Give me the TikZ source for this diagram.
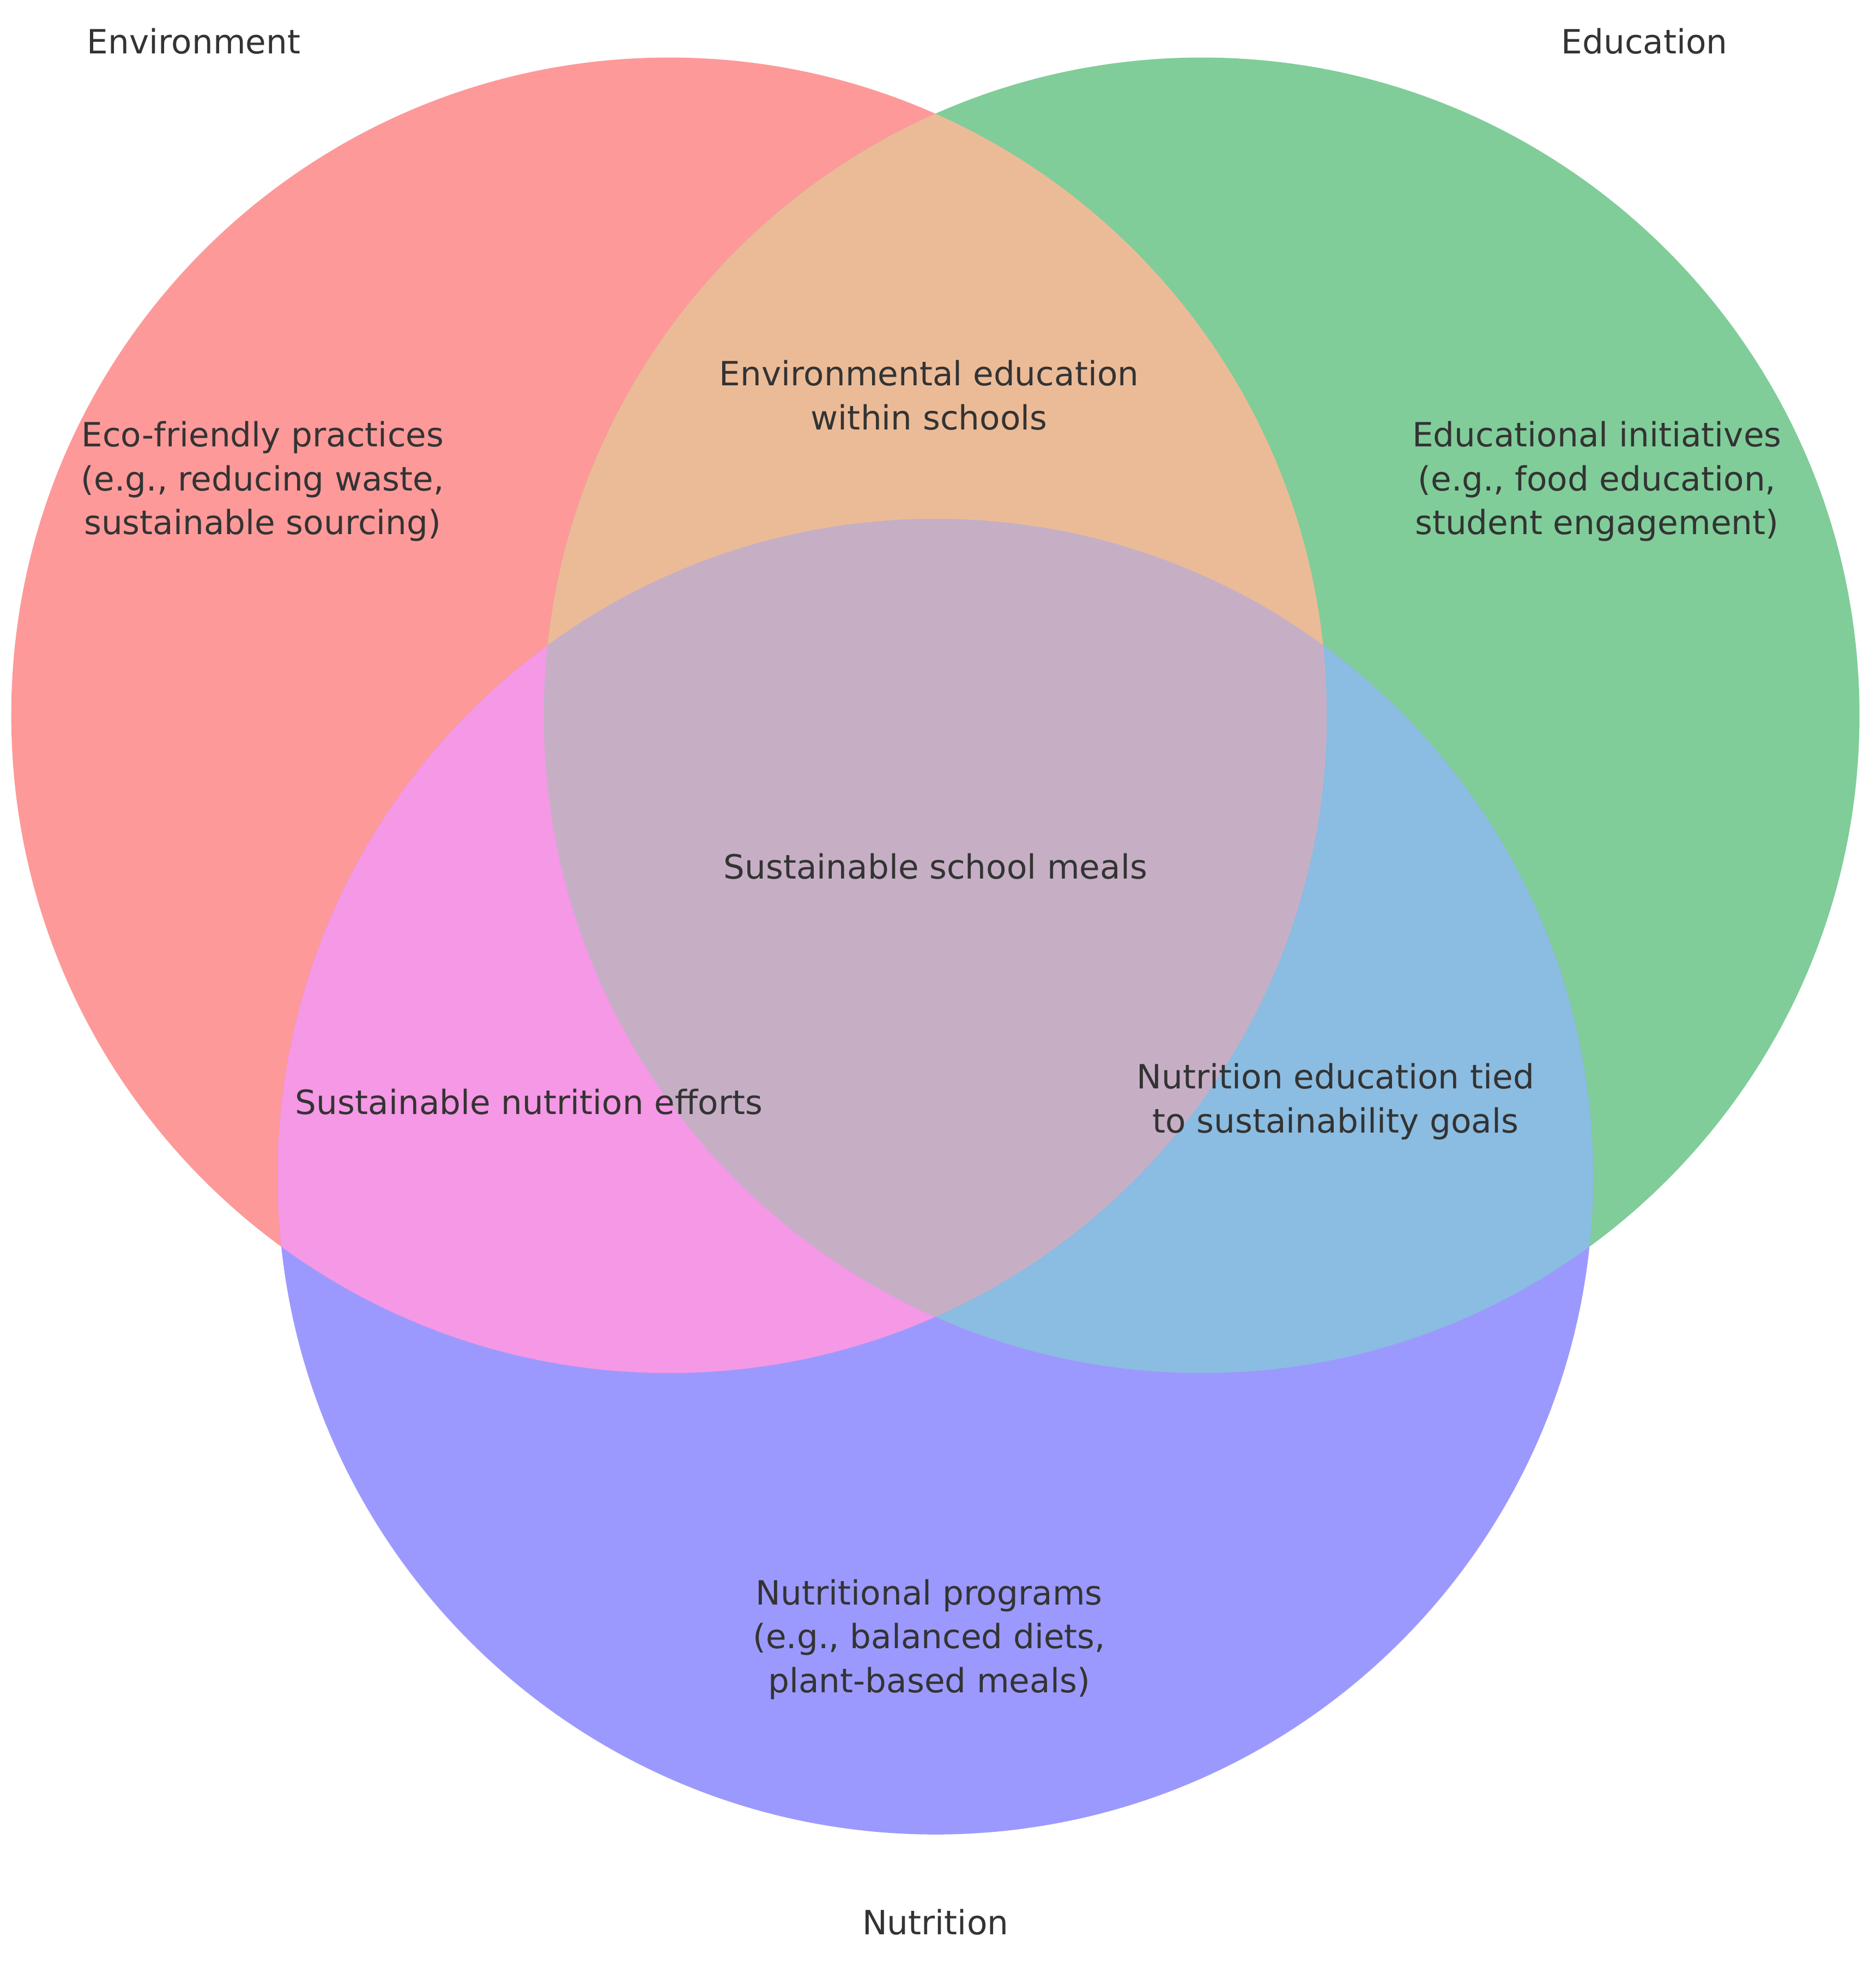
\documentclass[tikz,border=0pt]{standalone}
\usepackage{fontspec}
\setmainfont{DejaVu Sans}
\begin{document}
\begin{tikzpicture}[x=1mm,y=-1mm]
\tikzset{lbl/.style={text=black!80,align=center,font=\fontsize{76}{100}\selectfont,inner sep=0pt}}
\useasboundingbox (0,0) rectangle (1500,1573);
\def\cA{(535,572) circle (526)}
\def\cB{(961,572) circle (526)}
\def\cC{(748,941) circle (526)}
\fill[fill={rgb,255:red,254;green,153;blue,153}] \cA;
\fill[fill={rgb,255:red,128;green,205;blue,153}] \cB;
\fill[fill={rgb,255:red,156;green,153;blue,254}] \cC;
\begin{scope}\clip \cA; \fill[fill={rgb,255:red,235;green,187;blue,152}] \cB; \end{scope}
\begin{scope}\clip \cA; \fill[fill={rgb,255:red,245;green,152;blue,229}] \cC; \end{scope}
\begin{scope}\clip \cB; \fill[fill={rgb,255:red,139;green,188;blue,225}] \cC; \end{scope}
\begin{scope}\clip \cA; \clip \cB; \fill[fill={rgb,255:red,198;green,175;blue,197}] \cC; \end{scope}
\node[lbl] (t1) at (155,33) {Environment};
\node[lbl] (t2) at (1315,33) {Education};
\node[lbl] (t3) at (748,1537) {Nutrition};
\node[lbl] (a) at (210,385) {Eco-friendly practices\\(e.g., reducing waste,\\sustainable sourcing)};
\node[lbl] (ab) at (743,316) {Environmental education\\within schools};
\node[lbl] (b) at (1277,385) {Educational initiatives\\(e.g., food education,\\student engagement)};
\node[lbl] (abc) at (748,693) {Sustainable school meals};
\node[lbl] (ac) at (423,881) {Sustainable nutrition efforts};
\node[lbl] (bc) at (1068,881) {Nutrition education tied\\to sustainability goals};
\node[lbl] (c) at (743,1311) {Nutritional programs\\(e.g., balanced diets,\\plant-based meals)};
\end{tikzpicture}
\end{document}
